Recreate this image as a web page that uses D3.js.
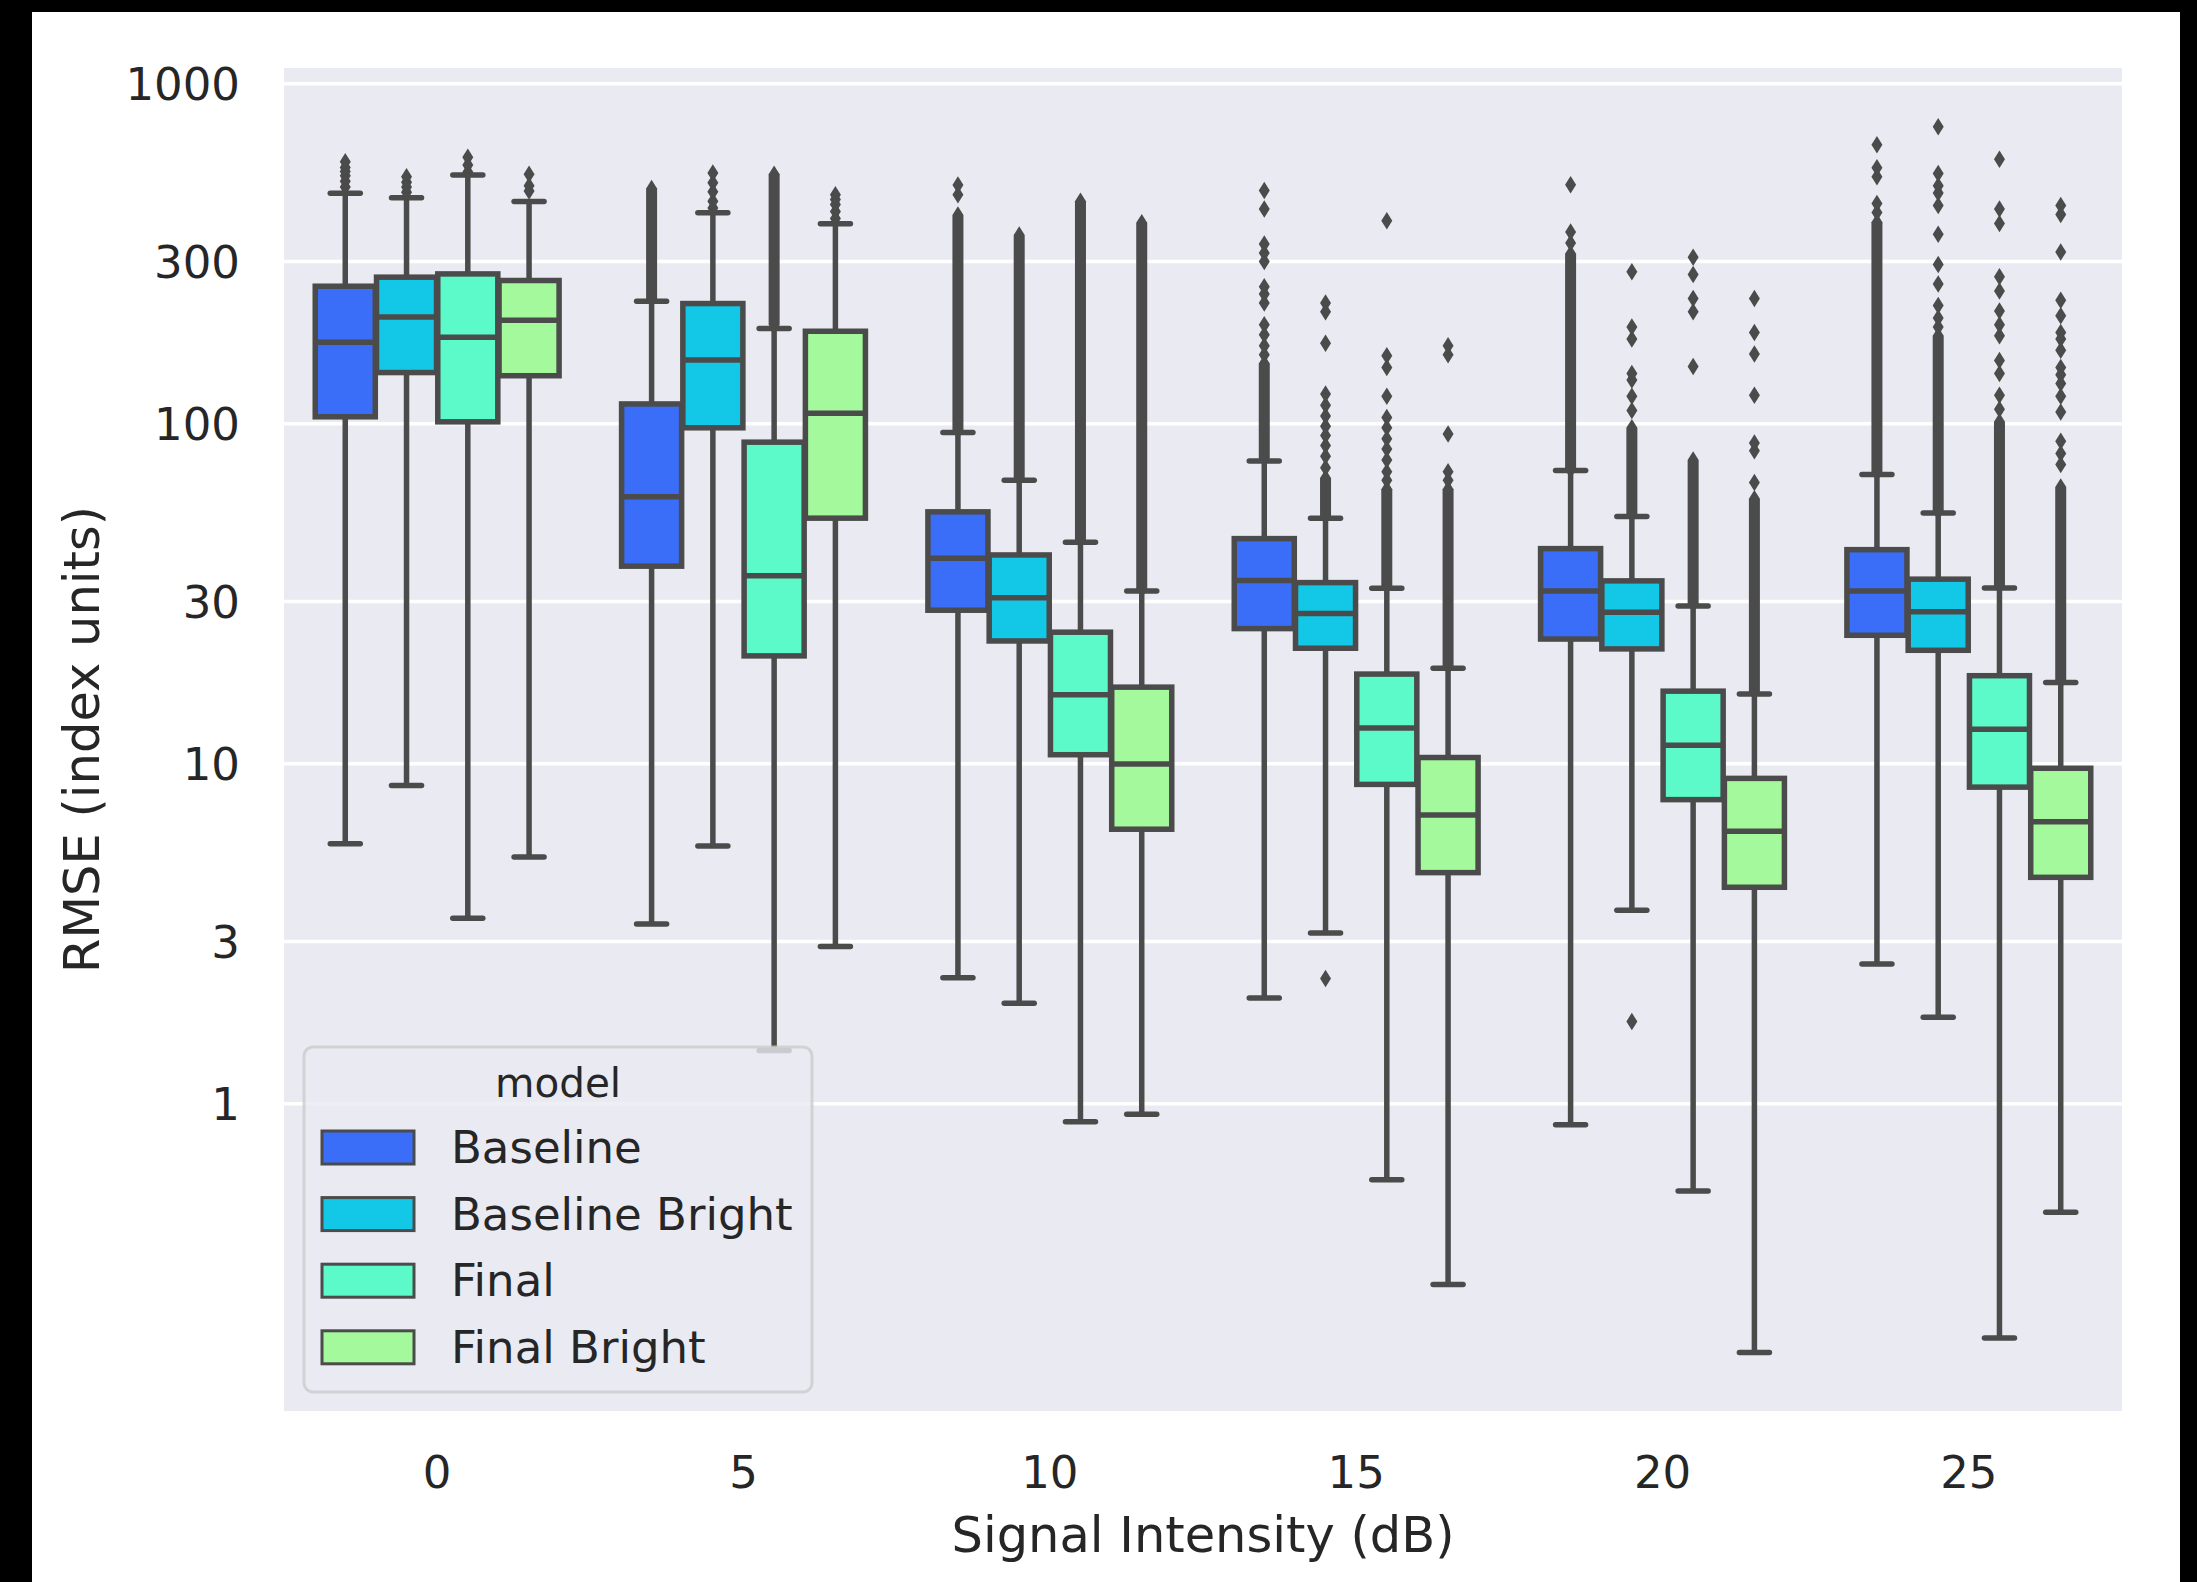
<!DOCTYPE html>
<html>
<head>
<meta charset="utf-8">
<script src="https://cdn.jsdelivr.net/npm/d3@7"></script>
<style>
  html, body { margin: 0; padding: 0; background: #ffffff; }
  svg { display: block; }
  text { font-family: "DejaVu Sans", sans-serif; fill: #262626; }
</style>
</head>
<body>
<svg id="chart" width="2197" height="1582"></svg>
<script>
// Signal intensity levels (x categories) and model variants (hue)
const snrLevels = ["0", "5", "10", "15", "20", "25"];
const models = ["Baseline", "Baseline Bright", "Final", "Final Bright"];
const modelColors = ["#3a6ef9", "#13c8e6", "#5cfac8", "#a3f99c"];

// Box statistics per level (rows) and model (columns), RMSE in index units
const whiskerLow = [
  [5.8, 8.6, 3.5, 5.3],
  [3.37, 5.71, 1.43, 2.89],
  [2.34, 1.97, 0.883, 0.929],
  [2.04, 3.17, 0.596, 0.293],
  [0.865, 3.7, 0.552, 0.185],
  [2.57, 1.79, 0.204, 0.478]
];
const quartile1 = [
  [104.5, 141, 101, 138],
  [38, 97, 20.7, 52.6],
  [28.2, 22.9, 10.6, 6.4],
  [24.9, 21.8, 8.67, 4.77],
  [23.2, 21.7, 7.82, 4.32],
  [23.8, 21.5, 8.51, 4.62]
];
const medians = [
  [173, 205.5, 179, 201],
  [60.8, 153.5, 35.6, 107],
  [40.1, 30.7, 15.9, 9.95],
  [34.5, 27.6, 12.7, 7.05],
  [32.1, 27.8, 11.3, 6.31],
  [32.1, 27.9, 12.6, 6.73]
];
const quartile3 = [
  [253, 269, 275, 263],
  [114, 225, 88, 186.5],
  [54.9, 41, 24.3, 16.75],
  [45.8, 34, 18.3, 10.4],
  [42.8, 34.4, 16.3, 9.03],
  [42.5, 34.8, 18.1, 9.67]
];
const whiskerHigh = [
  [475, 461, 537, 449],
  [228.5, 416, 190, 386],
  [94, 68, 44.7, 32.1],
  [77.5, 52.6, 32.7, 19.05],
  [72.6, 53.2, 29, 16],
  [70.7, 54.5, 32.8, 17.3]
];

// Individually visible fliers
const fliers = [
  [[495, 515, 535, 550, 565, 588], [478, 495, 512, 531], [548, 575, 606], [482, 500, 540]],
  [[], [430, 450, 480, 510, 545], [], [400, 420, 440, 455, 470]],
  [[470, 502], [], [], []],
  [[159, 169, 182, 195, 226, 240, 252, 299, 317, 337, 427, 484],
   [2.33, 74, 80, 86, 92, 98, 105, 113, 122, 172, 213, 226],
   [68, 72, 78, 84, 90, 97, 104, 120, 146, 158, 394],
   [68, 72, 93, 159, 169]],
  [[339, 365, 503],
   [1.74, 109, 120, 134, 140, 177, 192, 279],
   [147, 213, 233, 274, 308],
   [67, 83, 87.5, 121, 160, 185, 233]],
  [[417, 443, 531, 564, 659],
   [192, 204, 222, 257, 293, 360, 437, 476, 500, 543, 745],
   [110, 121, 140, 153, 181, 195, 214, 245, 270, 387, 427, 598],
   [75.7, 81.5, 88.5, 108, 120, 131, 139, 146, 164, 177, 185, 207, 230, 319, 411, 437]]
];

// Ranges where fliers are so dense that they merge into a solid column
const denseFlierRuns = [
  [null, null, null, null],
  [[232, 490], null, [195, 540], null],
  [[95, 410], [69, 358], [45.5, 450], [32.5, 389]],
  [[79, 150], [53.5, 69], [33.2, 64], [19.3, 64]],
  [[73, 315], [54, 97], [29.5, 78], [16.3, 60]],
  [[71.5, 390], [55, 181], [33.3, 101], [17.5, 65]]
];

const yTickValues = [1, 3, 10, 30, 100, 300, 1000];
const yLimits = [0.1245, 1109];

// ---- layout ----
const W = 2197, H = 1582;
const plot = { left: 284, right: 2122, top: 68, bottom: 1411 };
const lineColor = "#4b4b4b";
const lw = 5.5;
const tickFont = 45, labelFont = 49.5, legendFont = 45, legendTitleFont = 40.5;

const svg = d3.select("#chart");

// outer frame
svg.append("rect").attr("x", 0).attr("y", 0).attr("width", W).attr("height", H).attr("fill", "#000");
svg.append("rect").attr("x", 32).attr("y", 12).attr("width", 2180 - 32).attr("height", H - 12).attr("fill", "#fff");

const x = d3.scaleBand().domain(snrLevels).range([plot.left, plot.right]).padding(0);
const hue = d3.scaleBand().domain(models).range([-0.4 * x.bandwidth(), 0.4 * x.bandwidth()]).padding(0);
const y = d3.scaleLog().domain(yLimits).range([plot.bottom, plot.top]);

// plot background
svg.append("rect")
  .attr("x", plot.left).attr("y", plot.top)
  .attr("width", plot.right - plot.left).attr("height", plot.bottom - plot.top)
  .attr("fill", "#eaeaf2");

// horizontal grid + y tick labels
const yAxis = d3.axisLeft(y).tickValues(yTickValues).tickFormat(d3.format("d"))
  .tickSize(-(plot.right - plot.left)).tickPadding(44);
const gy = svg.append("g").attr("transform", `translate(${plot.left},0)`).call(yAxis);
gy.select(".domain").remove();
gy.selectAll(".tick line").attr("stroke", "#ffffff").attr("stroke-width", 3.5);
gy.selectAll(".tick text").attr("font-size", tickFont).attr("fill", "#262626")
  .attr("dy", "0.36em")
  .style("font-family", "DejaVu Sans");

// x tick labels
const xAxis = d3.axisBottom(x).tickSize(0).tickPadding(45);
const gx = svg.append("g").attr("transform", `translate(0,${plot.bottom})`).call(xAxis);
gx.select(".domain").remove();
gx.selectAll(".tick text").attr("font-size", tickFont).attr("fill", "#262626")
  .style("font-family", "DejaVu Sans");

// axis titles
svg.append("text")
  .attr("x", (plot.left + plot.right) / 2).attr("y", 1552)
  .attr("text-anchor", "middle").attr("font-size", labelFont)
  .text("Signal Intensity (dB)");
svg.append("text")
  .attr("transform", `translate(99,${(plot.top + plot.bottom) / 2}) rotate(-90)`)
  .attr("text-anchor", "middle").attr("font-size", labelFont)
  .text("RMSE (index units)");

// ---- boxes ----
const boxW = hue.bandwidth() * 0.98;
const capHalf = boxW / 4;
const dH = 8.75, dW = 5.5;   // thin diamond flier half sizes

const gBoxes = svg.append("g");
snrLevels.forEach((lvl, i) => {
  models.forEach((m, j) => {
    const cx = x(lvl) + x.bandwidth() / 2 + hue(m) + hue.bandwidth() / 2;
    const g = gBoxes.append("g");
    const lo = y(whiskerLow[i][j]), hi = y(whiskerHigh[i][j]);
    const b1 = y(quartile1[i][j]), b3 = y(quartile3[i][j]), md = y(medians[i][j]);

    // whiskers
    g.append("line").attr("x1", cx).attr("x2", cx).attr("y1", b1).attr("y2", lo)
      .attr("stroke", lineColor).attr("stroke-width", lw);
    g.append("line").attr("x1", cx).attr("x2", cx).attr("y1", b3).attr("y2", hi)
      .attr("stroke", lineColor).attr("stroke-width", lw);
    // caps
    [lo, hi].forEach(cy => {
      g.append("line").attr("x1", cx - capHalf).attr("x2", cx + capHalf)
        .attr("y1", cy).attr("y2", cy)
        .attr("stroke", lineColor).attr("stroke-width", lw).attr("stroke-linecap", "round");
    });
    // box
    g.append("rect").attr("x", cx - boxW / 2).attr("y", b3)
      .attr("width", boxW).attr("height", b1 - b3)
      .attr("fill", modelColors[j]).attr("stroke", lineColor).attr("stroke-width", lw);
    // median
    g.append("line").attr("x1", cx - boxW / 2).attr("x2", cx + boxW / 2)
      .attr("y1", md).attr("y2", md)
      .attr("stroke", lineColor).attr("stroke-width", lw);

    // dense flier column
    const run = denseFlierRuns[i][j];
    if (run) {
      const ya = y(run[0]), yb = y(run[1]);
      g.append("path")
        .attr("d", `M${cx},${yb - dH} L${cx + dW},${yb} L${cx + dW},${ya} L${cx},${ya + dH} L${cx - dW},${ya} L${cx - dW},${yb} Z`)
        .attr("fill", lineColor);
    }
    // single fliers
    g.selectAll("path.flier").data(fliers[i][j]).enter().append("path")
      .attr("class", "flier")
      .attr("d", d => {
        const py = y(d);
        return `M${cx},${py - dH} L${cx + dW},${py} L${cx},${py + dH} L${cx - dW},${py} Z`;
      })
      .attr("fill", lineColor);
  });
});

// ---- legend ----
const lg = { x: 304, y: 1047, w: 508, h: 345 };
const gl = svg.append("g");
gl.append("rect").attr("x", lg.x).attr("y", lg.y).attr("width", lg.w).attr("height", lg.h)
  .attr("rx", 9).attr("ry", 9)
  .attr("fill", "#eaeaf2").attr("fill-opacity", 0.8)
  .attr("stroke", "#cccccc").attr("stroke-opacity", 0.8).attr("stroke-width", 3);
gl.append("text").attr("x", lg.x + lg.w / 2).attr("y", 1097)
  .attr("text-anchor", "middle").attr("font-size", legendTitleFont).text("model");
models.forEach((m, j) => {
  const sy = 1131 + j * 66.6;
  gl.append("rect").attr("x", 322).attr("y", sy).attr("width", 92).attr("height", 33)
    .attr("fill", modelColors[j]).attr("stroke", lineColor).attr("stroke-width", 3);
  gl.append("text").attr("x", 451).attr("y", sy + 32).attr("font-size", legendFont).text(m);
});
</script>
</body>
</html>
